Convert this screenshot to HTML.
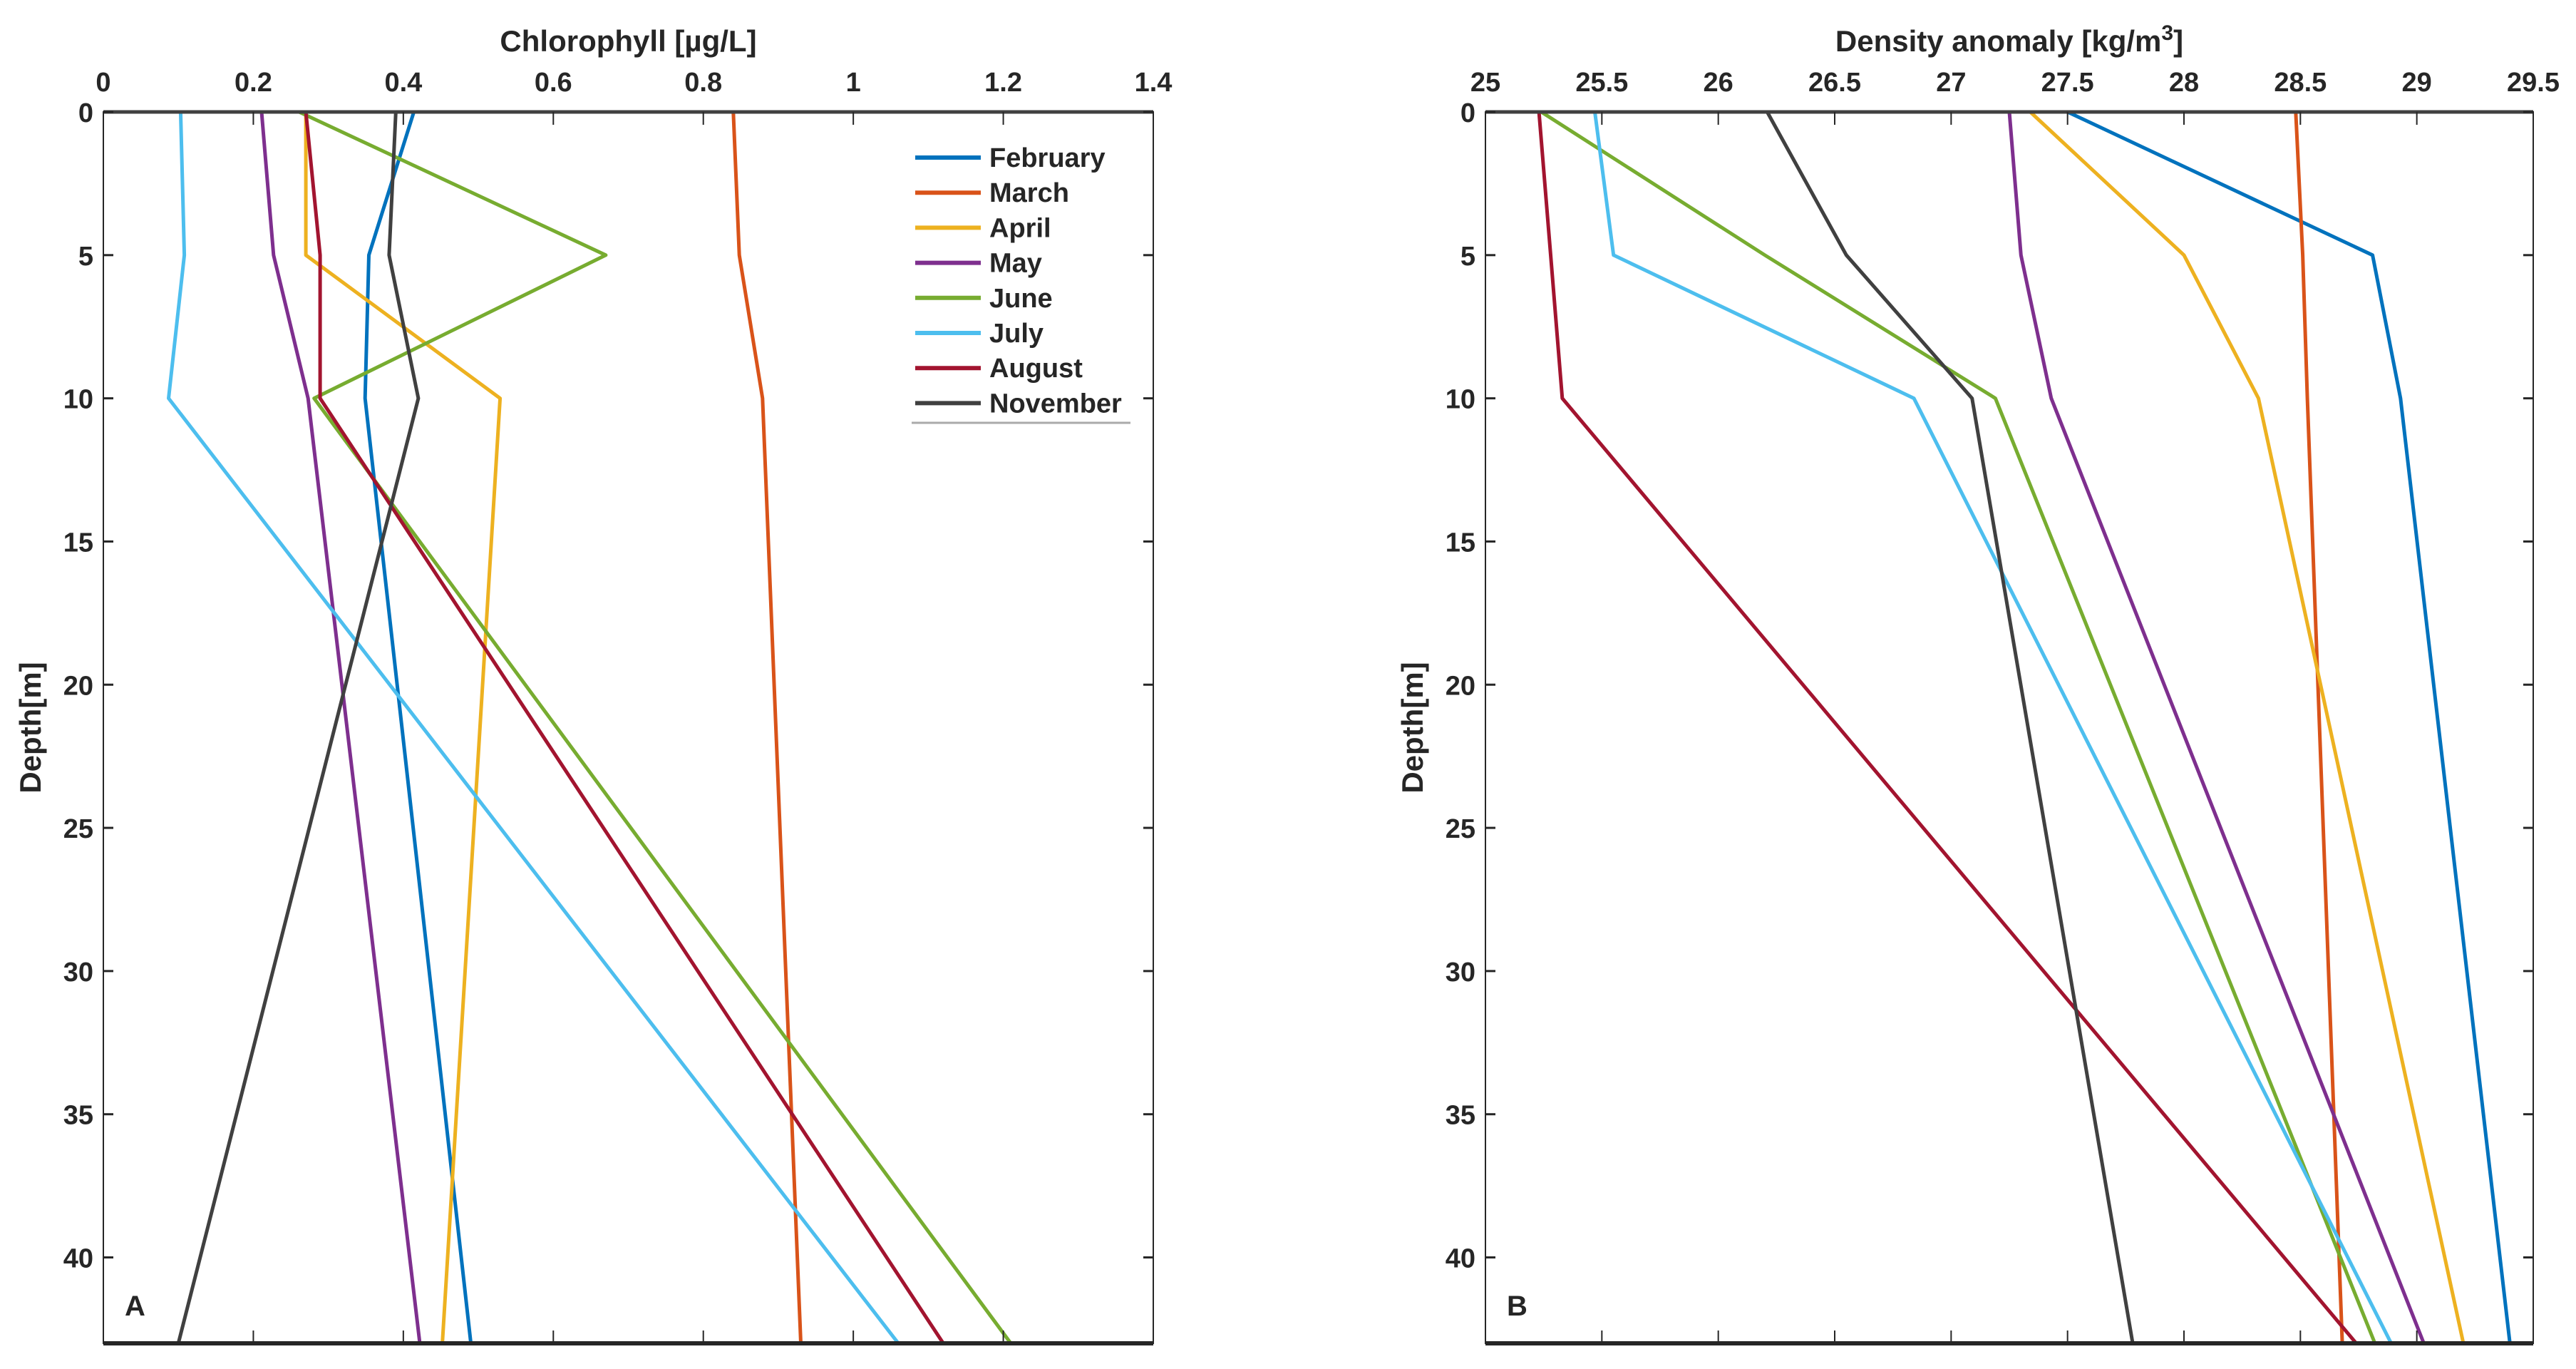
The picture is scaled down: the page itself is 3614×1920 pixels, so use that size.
<!DOCTYPE html>
<html><head><meta charset="utf-8"><style>
html,body{margin:0;padding:0;background:#fff;width:3614px;height:1920px;overflow:hidden}
svg text{font-family:"Liberation Sans Narrow","Liberation Sans",sans-serif;font-weight:bold;fill:#262626}
</style></head><body>
<svg id="fig" width="3614" height="1920" viewBox="0 0 3614 1920" xmlns="http://www.w3.org/2000/svg"></svg>
<script>
const months = ["February","March","April","May","June","July","August","November"];
const colors = ["#0072BD","#D95319","#EDB120","#7E2F8E","#77AC30","#4DBEEE","#A2142F","#404040"];
const depthTicks = [0,5,10,15,20,25,30,35,40];
const chlTicks = [0,0.2,0.4,0.6,0.8,1,1.2,1.4];
const denTicks = [25,25.5,26,26.5,27,27.5,28,28.5,29,29.5];
const chlDepths = [[0,5,10,43],[0,5,10,43],[0,5,10,43],[0,5,10,43],[0,5,10,43],[0,5,10,43],[0,5,10,43],[0,5,10,43]];
const chlFeb = [0.414,0.354,0.349,0.49];
const chlMar = [0.84,0.848,0.879,0.93];
const chlApr = [0.27,0.27,0.529,0.452];
const chlMay = [0.211,0.227,0.273,0.422];
const chlJun = [0.261,0.67,0.281,1.21];
const chlJul = [0.103,0.108,0.087,1.06];
const chlAug = [0.27,0.289,0.289,1.12];
const chlNov = [0.39,0.381,0.42,0.10];
const denDepths = [0,5,10,43];
const denFeb = [27.5,28.81,28.93,29.40];
const denMar = [28.48,28.51,28.53,28.68];
const denApr = [27.34,28.0,28.32,29.2];
const denMay = [27.25,27.3,27.43,29.03];
const denJun = [25.24,26.2,27.19,28.82];
const denJul = [25.47,25.55,26.84,28.89];
const denAug = [25.23,25.28,25.33,28.74];
const denNov = [26.21,26.55,27.09,27.78];
const chlSeries = [chlFeb,chlMar,chlApr,chlMay,chlJun,chlJul,chlAug,chlNov];
const denSeries = [denFeb,denMar,denApr,denMay,denJun,denJul,denAug,denNov];

const NS="http://www.w3.org/2000/svg";
const svg=document.getElementById('fig');
function el(tag,attrs,parent){const e=document.createElementNS(NS,tag);for(const k in attrs)e.setAttribute(k,attrs[k]);(parent||svg).appendChild(e);return e;}
const Y0=157,Y1=1884,DMAX=43;
function yS(d){return Y0+(d/DMAX)*(Y1-Y0);}

function panel(cfg){
  const g=el('g',{});
  
  
  const xS=v=>cfg.x0+(v-cfg.min)/(cfg.max-cfg.min)*(cfg.x1-cfg.x0);
  // series
  cfg.series.forEach((vals,i)=>{
    const pts=vals.map((v,j)=>xS(v).toFixed(1)+','+yS(denDepths[j]).toFixed(1)).join(' ');
    const p=el('polyline',{points:pts,fill:'none',stroke:colors[i],'stroke-width':5,'stroke-linejoin':'round'},g);
    
    
  });
  // box
  const b=el('rect',{x:cfg.x0,y:Y0,width:cfg.x1-cfg.x0,height:Y1-Y0,fill:'none',stroke:'#262626','stroke-width':2},g);
  
  
  el('line',{x1:cfg.x0,y1:Y0,x2:cfg.x1,y2:Y0,stroke:'#404040','stroke-width':5},g);
  el('line',{x1:cfg.x0,y1:Y1,x2:cfg.x1,y2:Y1,stroke:'#262626','stroke-width':6},g);
  cfg.ticks.forEach(t=>{
    const x=xS(t);
    el('line',{x1:x,y1:Y0,x2:x,y2:Y0+18,stroke:'#262626','stroke-width':2},g);
    el('line',{x1:x,y1:Y1,x2:x,y2:Y1-18,stroke:'#262626','stroke-width':2},g);
    const tx=el('text',{x:x,y:128,'text-anchor':'middle','font-size':38},g);
    tx.textContent=t;
    
    
  });
  depthTicks.forEach(d=>{
    const y=yS(d);
    el('line',{x1:cfg.x0,y1:y,x2:cfg.x0+14,y2:y,stroke:'#262626','stroke-width':3},g);
    el('line',{x1:cfg.x1,y1:y,x2:cfg.x1-14,y2:y,stroke:'#262626','stroke-width':3},g);
    const tx=el('text',{x:cfg.x0-14,y:y+14,'text-anchor':'end','font-size':38},g);
    tx.textContent=d;
    
    
  });
  const title=el('text',{x:(cfg.x0+cfg.x1)/2,y:72,'text-anchor':'middle','font-size':42},g);
  title.innerHTML=cfg.title;
  
  
  const yl=el('text',{x:0,y:0,'text-anchor':'middle','font-size':42,transform:`translate(${cfg.x0-88},${(Y0+Y1)/2}) rotate(-90)`},g);
  yl.textContent='Depth[m]';
  
  
  const pl=el('text',{x:cfg.x0+30,y:1845,'font-size':40},g);
  pl.textContent=cfg.letter;
  
  
}
panel({name:'chlorophyll-panel',prefix:'chl',x0:145,x1:1618,min:0,max:1.4,ticks:chlTicks,series:chlSeries,title:'Chlorophyll [µg/L]',letter:'A'});
panel({name:'density-panel',prefix:'den',x0:2084,x1:3554,min:25,max:29.5,ticks:denTicks,series:denSeries,title:'Density anomaly [kg/m<tspan dy="-16" font-size="30">3</tspan><tspan dy="16">]</tspan>',letter:'B'});

// legend
const lg=el('g',{});


months.forEach((m,i)=>{
  const y=221+49.2*i;
  const e=el('g',{},lg);
  
  
  el('line',{x1:1284,y1:y,x2:1376,y2:y,stroke:colors[i],'stroke-width':6},e);
  const t=el('text',{x:1388,y:y+13,'font-size':38},e);
  t.textContent=m;
});
el('line',{x1:1279,y1:593,x2:1586,y2:593,stroke:'#aaaaaa','stroke-width':3},lg);
</script>
</body></html>
